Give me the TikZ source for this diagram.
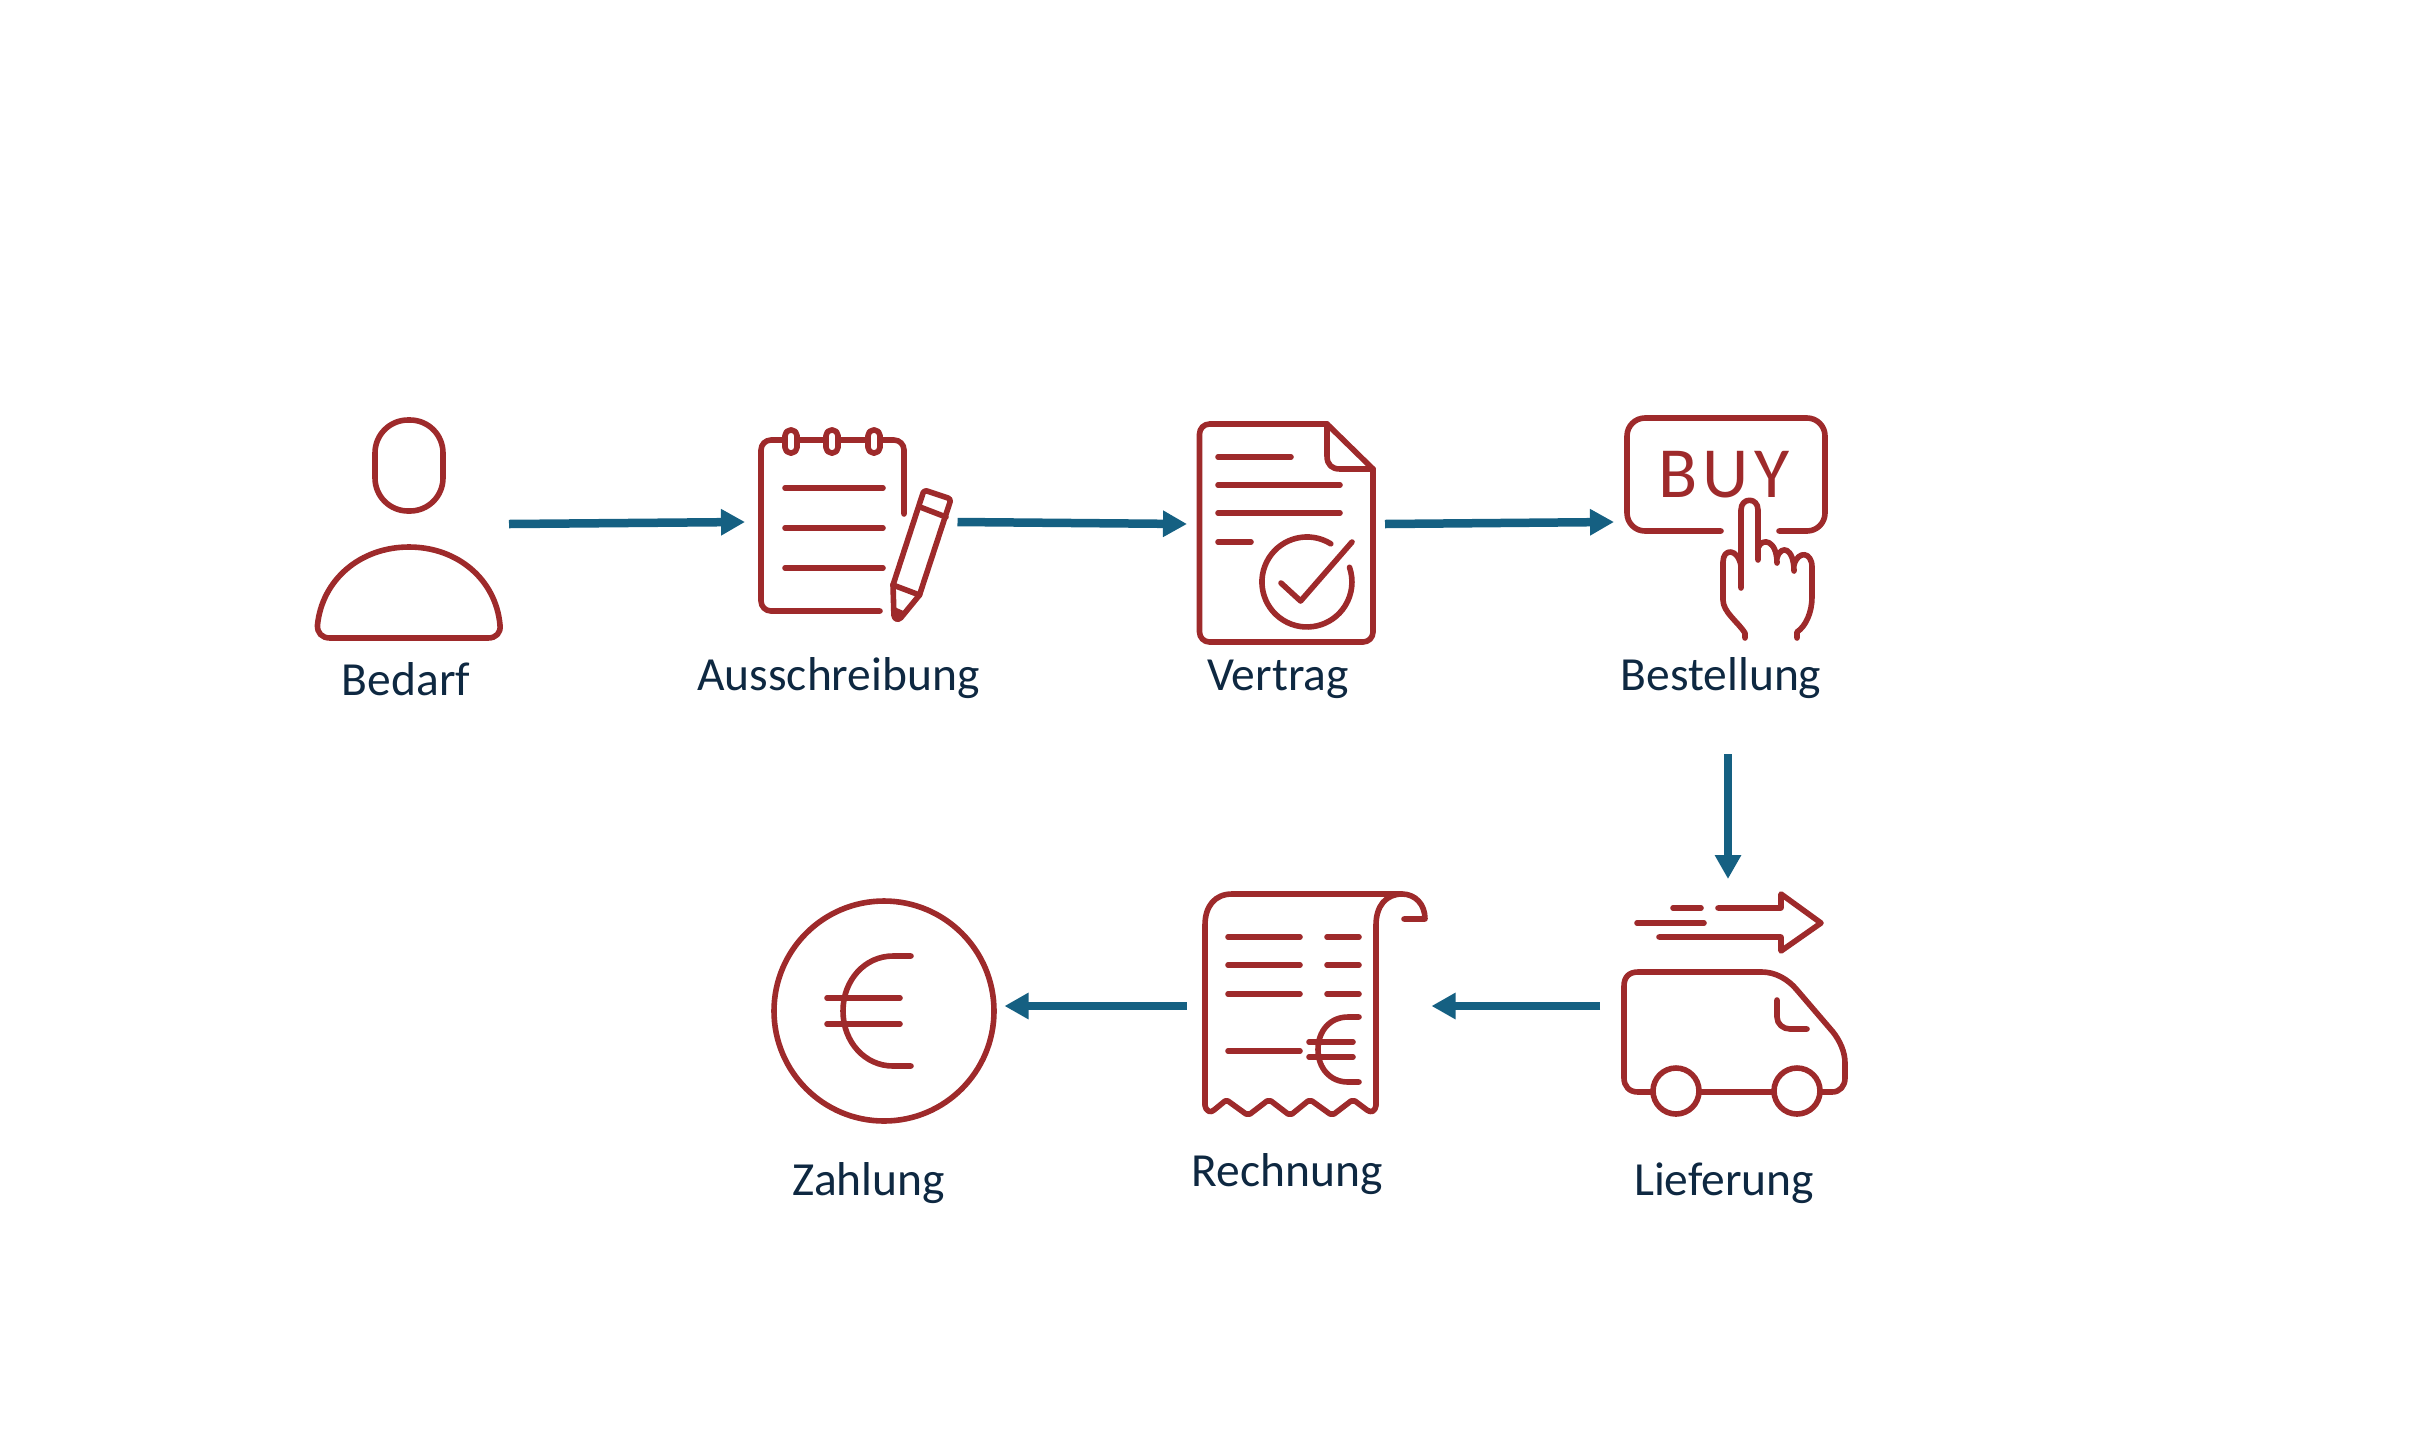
\documentclass[tikz,border=0pt]{standalone}
\usepackage{fontspec}
\setmainfont{Carlito}
\usetikzlibrary{arrows.meta}
\definecolor{iconred}{HTML}{9E2A2B}
\definecolor{flowblue}{HTML}{156082}
\definecolor{labelnavy}{HTML}{0E2841}
\tikzset{
  icon/.style={draw=iconred,line width=5.6pt,line cap=round,line join=round},
  iconbox/.style={rectangle,inner sep=0pt,outer sep=0pt},
  lab/.style={anchor=base,text=labelnavy,font=\fontsize{47.5}{56}\selectfont,inner sep=0pt},
  flow/.style={draw=flowblue,line width=8.5pt,-{Triangle[length=24pt,width=25pt]}}
}
\begin{document}
\begin{tikzpicture}[x=1pt,y=-1pt]
\useasboundingbox (0,0) rectangle (2412,1433);
% invisible icon frames, connectors attach to these
\node[iconbox,minimum width=203pt,minimum height=234pt] (bedarf) at (407.5,524) {};
\node[iconbox,minimum width=212.5pt,minimum height=198pt] (aus) at (851.25,522) {};
\node[iconbox,minimum width=198pt,minimum height=244pt] (vertrag) at (1286,524) {};
\node[iconbox,minimum width=228pt,minimum height=232pt] (best) at (1728,522) {};
\node[iconbox,minimum width=256pt,minimum height=254pt] (lief) at (1728,1006) {};
\node[iconbox,minimum width=245pt,minimum height=240pt] (rech) at (1309,1006) {};
\node[iconbox,minimum width=241pt,minimum height=240pt] (zahl) at (884,1006) {};
% labels
\node[lab] (lbedarf) at (406,695) {Bedarf};
\node[lab] (laus) at (838.5,690) {Ausschreibung};
\node[lab] (lvertrag) at (1278,690) {Vertrag};
\node[lab] (lbest) at (1721,690) {Bestellung};
\node[lab] (llief) at (1724,1195) {Lieferung};
\node[lab] (lrech) at (1287,1186) {Rechnung};
\node[lab] (lzahl) at (868.5,1195) {Zahlung};
% connectors
\draw[flow] (bedarf.east) -- (aus.west);
\draw[flow] (aus.east) -- (vertrag.west);
\draw[flow] (vertrag.east) -- (best.west);
\draw[flow] ([yshift=-116pt]best.south) -- (lief.north);
\draw[flow] (lief.west) -- (rech.east);
\draw[flow] (rech.west) -- (zahl.east);
% person
\draw[icon,rounded corners=33pt] (375,420) rectangle (443,511);
\draw[icon] (317.5,625) .. controls (322,580) and (360,547) .. (409,547)
  .. controls (458,547) and (496,580) .. (500,625)
  .. controls (501,633) and (496,638) .. (488,638) -- (330,638)
  .. controls (322,638) and (317,633) .. (317.5,625) -- cycle;
% notepad
\draw[icon,rounded corners=10pt] (880,611) -- (761,611) -- (761,440) -- (904,440) -- (904,514);
\foreach \rx in {791,832,874}
  \draw[icon,fill=white,rounded corners=5.5pt] (\rx-6,430) rectangle (\rx+6,453);
\foreach \ly in {488,528,568}
  \draw[icon] (785,\ly) -- (883,\ly);
\draw[icon,rounded corners=3pt] (893,585) -- (924,490) -- (951,499) -- (919.5,595);
\draw[icon] (920,507) -- (946,517);
\draw[icon] (893,585) -- (919.5,595);
\draw[icon,rounded corners=3pt] (893,585) -- (894,618) -- (899,620) -- (919.5,595);
\fill[iconred] (892,606) -- (906,612) -- (899,622) -- (893,620) -- cycle;
% contract
\draw[icon,rounded corners=10pt] (1327,424) -- (1199.5,424) -- (1199.5,642) -- (1373,642) -- (1373,469);
\draw[icon] (1327,424) -- (1373,469);
\draw[icon] (1327,424) -- (1327,456) .. controls (1327,465) and (1332,469) .. (1340,469) -- (1373,469);
\draw[icon] (1218,457) -- (1291,457);
\draw[icon] (1218,485) -- (1340,485);
\draw[icon] (1218,513) -- (1340,513);
\draw[icon] (1218,542) -- (1251,542);
\draw[icon] (1330.8,543.8) arc[start angle=58,end angle=379,radius=45pt];
\draw[icon] (1281,583) -- (1300.6,601) -- (1352,542);
% buy button
\draw[icon,rounded corners=18pt] (1721,531) -- (1627,531) -- (1627,418) -- (1825,418) -- (1825,531) -- (1779,531);
\node[inner sep=0pt,anchor=base,text=iconred,font=\fontsize{72}{80}\selectfont] (buy) at (1724,497) {B\kern5pt U\kern5pt Y};
\draw[icon] (1741,588) -- (1741,510) .. controls (1741,497) and (1758,497) .. (1758,510) -- (1758,560);
\draw[icon] (1758,548) .. controls (1762,537) and (1777,540) .. (1777,563);
\draw[icon] (1777,558) .. controls (1781,544) and (1794,548) .. (1794,571);
\draw[icon] (1794,565) .. controls (1798,550) and (1812,552) .. (1812,567)
  -- (1812,597) .. controls (1812,612) and (1806,626) .. (1797,632) -- (1797,638);
\draw[icon] (1741,566) .. controls (1738,548) and (1723,548) .. (1723,562)
  -- (1723,600) .. controls (1723,612) and (1738,622) .. (1745,633) -- (1745,638);
% delivery van
\draw[icon] (1718,908) -- (1781,908) -- (1781,894) -- (1821,923) -- (1781,951) -- (1781,937) -- (1659,937);
\draw[icon] (1673,908) -- (1701,908);
\draw[icon] (1637,923) -- (1704,923);
\draw[icon] (1652,1092) -- (1638,1092) .. controls (1629,1092) and (1624,1086) .. (1624,1078)
  -- (1624,986) .. controls (1624,977) and (1629,972) .. (1638,972)
  -- (1762,972) .. controls (1775,972) and (1788,979) .. (1797,990)
  -- (1833,1032) .. controls (1840,1041) and (1845,1052) .. (1845,1063)
  -- (1845,1078) .. controls (1845,1086) and (1840,1092) .. (1832,1092) -- (1821,1092);
\draw[icon] (1700,1092) -- (1773,1092);
\draw[icon] (1676,1091) circle[radius=23pt];
\draw[icon] (1797,1091) circle[radius=23pt];
\draw[icon] (1777,1000) -- (1777,1017) .. controls (1777,1024) and (1783,1029) .. (1790,1029) -- (1807,1029);
% invoice
\draw[icon] (1205,1105) -- (1205,925) .. controls (1205,906) and (1215,894) .. (1232,894)
  -- (1402,894) .. controls (1415,894) and (1425,904) .. (1425,919) -- (1404,919);
\draw[icon] (1402,894) .. controls (1386,894) and (1376,906) .. (1376,925) -- (1376,1105);
\draw[icon] (1205,1105) .. controls (1206,1112) and (1211,1113) .. (1214,1110)
  -- (1225,1101) -- (1228,1101) -- (1246,1114) -- (1250,1114) -- (1267,1101) -- (1271,1101) -- (1288,1114) -- (1292,1114) -- (1308,1101) -- (1312,1101) -- (1330,1114) -- (1334,1114) -- (1351,1101) -- (1355,1101) -- (1367,1110)
  .. controls (1371,1113) and (1375,1112) .. (1376,1105);
\foreach \ly in {937,965,994}{
  \draw[icon] (1228,\ly) -- (1300,\ly);
  \draw[icon] (1327,\ly) -- (1359,\ly);
}
\draw[icon] (1228,1051) -- (1300,1051);
\draw[icon] (1359,1017) -- (1348,1017) .. controls (1330,1017) and (1318,1031) .. (1318,1049.5)
  .. controls (1318,1068) and (1330,1082) .. (1348,1082) -- (1359,1082);
\draw[icon] (1309,1042) -- (1353,1042);
\draw[icon] (1309,1057) -- (1353,1057);
% coin
\draw[icon] (884,1011) circle[radius=110pt];
\draw[icon] (911,956) -- (893,956) .. controls (865,956) and (843,980) .. (843,1011)
  .. controls (843,1042) and (865,1066) .. (893,1066) -- (911,1066);
\draw[icon] (827,998) -- (900,998);
\draw[icon] (827,1024) -- (900,1024);
\end{tikzpicture}
\end{document}
